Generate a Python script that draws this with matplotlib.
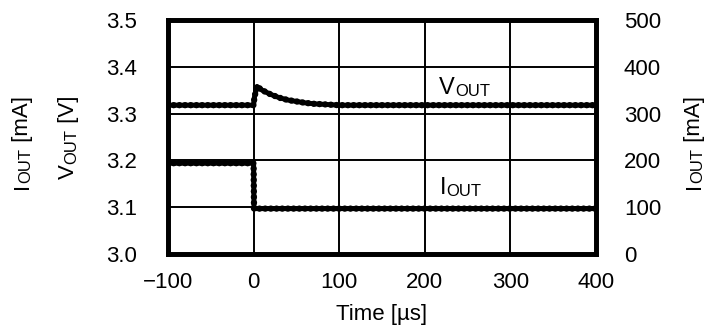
import matplotlib
matplotlib.use("Agg")
import matplotlib.pyplot as plt

plt.rcParams['font.family'] = ['Liberation Sans', 'DejaVu Sans']

# VOUT trace [V]
t_v = [-100, 0, 1, 4, 10, 20, 30, 40, 50, 60, 70, 80, 90, 100, 400]
v_out = [3.318, 3.318, 3.335, 3.358, 3.350, 3.341, 3.334, 3.329, 3.326,
         3.323, 3.321, 3.320, 3.319, 3.318, 3.318]

# IOUT trace [mA]
t_i = [-100, 0, 0.5, 400]
i_out = [194, 194, 97, 97]

x_ticks = [-100, 0, 100, 200, 300, 400]
v_ticks = [3.0, 3.1, 3.2, 3.3, 3.4, 3.5]
i_ticks = [0, 100, 200, 300, 400, 500]

FS = 16
SC = 12


def chain(x, y, parts, rot=False):
    # text built from pieces (letter, small-caps "OUT", rest), figure coords
    prev = None
    for s, fs in parts:
        if prev is None:
            prev = fig.text(x, y, s, fontsize=fs, rotation=90 if rot else 0,
                            ha='right' if rot else 'left', va='bottom')
        elif rot:
            prev = ax.annotate(s, xy=(1, 1), xycoords=prev, fontsize=fs,
                               rotation=90, ha='right', va='bottom',
                               annotation_clip=False)
        else:
            prev = ax.annotate(s, xy=(1, 0), xycoords=prev, fontsize=fs,
                               ha='left', va='bottom', annotation_clip=False)


def trace(a, x, y):
    # thick band with a scalloped (ripple-like) edge
    a.plot(x, y, color='black', lw=3.6, solid_joinstyle='round', zorder=3)
    a.plot(x, y, color='black', lw=4.6, linestyle=(0, (0.01, 0.88)),
           dash_capstyle='round', zorder=3)


fig = plt.figure(figsize=(7.2, 3.3), dpi=100)
ax = fig.add_axes([0.2333, 0.2303, 0.5945, 0.7091])
ax2 = ax.twinx()

trace(ax, t_v, v_out)
trace(ax2, t_i, i_out)

ax.set_xlim(-100, 400)
ax.set_ylim(3.0, 3.5)
ax2.set_ylim(0, 500)
ax.set_xticks(x_ticks)
ax.set_xticklabels(['\u2212100' if t < 0 else str(t) for t in x_ticks])
ax.set_yticks(v_ticks)
ax.set_yticklabels(['%.1f' % v for v in v_ticks])
ax2.set_yticks(i_ticks)

ax.grid(True, color='black', lw=1.4)
ax.set_axisbelow(True)
for a in (ax, ax2):
    for s in a.spines.values():
        s.set_linewidth(3.4)
ax.tick_params(axis='both', length=0, labelsize=FS)
ax.tick_params(axis='y', pad=22)
ax.tick_params(axis='x', pad=13)
ax2.tick_params(axis='y', length=0, labelsize=FS, pad=20)

# axis titles
fig.text(382 / 720, 10 / 330, 'Time [\u00b5s]', fontsize=FS, ha='center',
         va='baseline')
chain(79 / 720, 1 - 179 / 330, [('V', FS), ('OUT', SC), (' [V]', FS)], rot=True)
chain(33 / 720, 1 - 189 / 330, [('I', FS), ('OUT', SC), (' [mA]', FS)], rot=True)
chain(705 / 720, 1 - 189 / 330, [('I', FS), ('OUT', SC), (' [mA]', FS)], rot=True)

# trace labels
chain(439 / 720, 1 - 99 / 330, [('V', FS + 1), ('OUT', SC)])
chain(440 / 720, 1 - 199 / 330, [('I', FS + 1), ('OUT', SC)])

fig.savefig('out.png', dpi=100)
